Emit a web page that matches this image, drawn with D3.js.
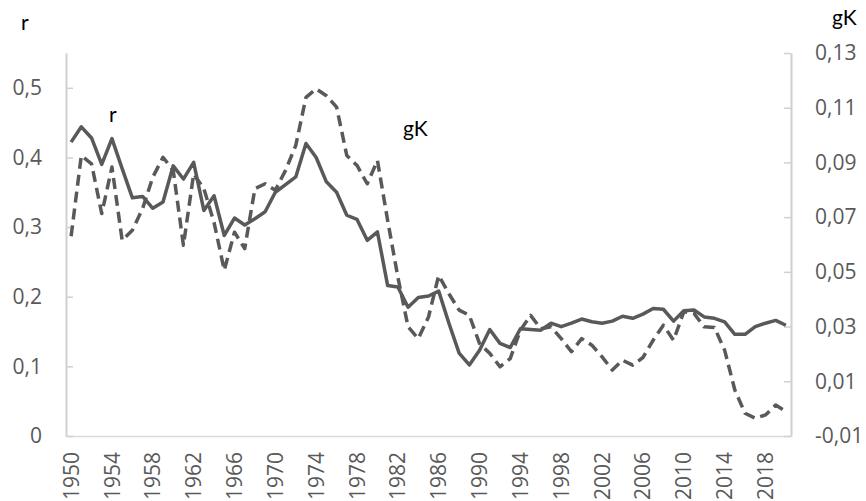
<!DOCTYPE html>
<html>
<head>
<meta charset="utf-8">
<script src="https://cdn.jsdelivr.net/npm/d3@7"></script>
<style>
  body { margin: 0; background: #fff; }
  svg { display: block; }
</style>
</head>
<body>
<div id="chart"></div>
<script>
// years on the category axis
var years = d3.range(1950, 2021);

// r (left axis)
var rValues = [
  0.422, 0.444, 0.428, 0.390, 0.427, 0.384, 0.342, 0.344, 0.327, 0.336,
  0.388, 0.369, 0.393, 0.324, 0.345, 0.288, 0.313, 0.303, 0.312, 0.322,
  0.350, 0.361, 0.372, 0.420, 0.400, 0.365, 0.350, 0.317, 0.311, 0.281,
  0.293, 0.216, 0.214, 0.185, 0.199, 0.201, 0.208, 0.162, 0.119, 0.102,
  0.123, 0.153, 0.133, 0.127, 0.154, 0.153, 0.152, 0.162, 0.157, 0.162,
  0.168, 0.164, 0.162, 0.165, 0.172, 0.169, 0.175, 0.183, 0.182, 0.165,
  0.180, 0.181, 0.171, 0.169, 0.164, 0.146, 0.146, 0.157, 0.162, 0.166,
  0.159
];

// gK (right axis)
var gkValues = [
  0.063, 0.0925, 0.0895, 0.0713, 0.0883, 0.0615, 0.0652, 0.0731, 0.0846, 0.0919,
  0.0871, 0.0597, 0.0858, 0.0804, 0.068, 0.0506, 0.0645, 0.0585, 0.0804, 0.0822,
  0.0798, 0.0871, 0.0962, 0.1138, 0.1169, 0.1144, 0.1102, 0.0925, 0.0889, 0.0822,
  0.0907, 0.0688, 0.0481, 0.0299, 0.0256, 0.0335, 0.0487, 0.042, 0.036, 0.0341,
  0.0238, 0.0202, 0.0153, 0.0183, 0.0287, 0.0341, 0.0292, 0.0299, 0.0256, 0.0208,
  0.0256, 0.0232, 0.0189, 0.0141, 0.0177, 0.0159, 0.0187, 0.025, 0.0305, 0.025,
  0.0354, 0.0348, 0.0299, 0.0297, 0.0214, 0.0068, -0.0017, -0.0035, -0.0023, 0.0013,
  -0.001
];

// tick values
var rTicks = [0, 0.1, 0.2, 0.3, 0.4, 0.5];
var gkTicks = [-0.01, 0.01, 0.03, 0.05, 0.07, 0.09, 0.11, 0.13];
var yearTicks = years.filter(function(y) { return (y - 1950) % 4 == 0; });

var W = 866, H = 501;
var plotL = 66, plotR = 791, plotT = 53, plotB = 436;
var grey = "#595959";

var svg = d3.select("#chart").append("svg")
    .attr("width", W)
    .attr("height", H);

// comma decimals, plain hyphen for minus
var loc = d3.formatLocale({decimal: ",", thousands: ".", grouping: [3], currency: ["", ""], minus: "-"});
var f1 = loc.format(".1f"), f2 = loc.format(".2f");

var x = d3.scaleBand().domain(years).range([plotL, plotR]).paddingInner(0).paddingOuter(0);
var xc = function(y) { return x(y) + x.bandwidth() / 2; };

var yR = d3.scaleLinear().domain([0, 0.55]).range([plotB, plotT]);
var yG = d3.scaleLinear().domain([-0.01, 0.13]).range([plotB, plotT]);

function styleAxis(g) {
    g.select(".domain").attr("stroke", "#d0d0d0").attr("stroke-width", 2);
    g.selectAll(".tick line").attr("stroke", "#d0d0d0").attr("stroke-width", 1.5);
    g.selectAll(".tick text")
        .attr("fill", grey)
        .style("font-family", "'Open Sans', sans-serif")
        .style("font-size", "21px");
}

// bottom axis
var gx = svg.append("g")
    .attr("transform", "translate(0," + plotB + ")")
    .call(d3.axisBottom(x).tickValues(yearTicks).tickSize(0));
styleAxis(gx);
gx.select(".domain").attr("stroke", "#d9d9d9").attr("stroke-width", 1.5);
gx.selectAll(".tick text")
    .attr("transform", "rotate(-90)")
    .attr("x", -16)
    .attr("y", 0)
    .attr("dy", "0.36em")
    .style("text-anchor", "end");

// left axis
var gl = svg.append("g")
    .attr("transform", "translate(" + plotL + ",0)")
    .call(d3.axisLeft(yR).tickValues(rTicks).tickSizeInner(-7).tickSizeOuter(0).tickPadding(24)
        .tickFormat(function(d) { return d == 0 ? "0" : f1(d); }));
styleAxis(gl);

// right axis
var gr = svg.append("g")
    .attr("transform", "translate(" + plotR + ",0)")
    .call(d3.axisRight(yG).tickValues(gkTicks).tickSizeInner(-7).tickSizeOuter(0).tickPadding(24)
        .tickFormat(f2));
styleAxis(gr);

// the two series
var lineR = d3.line().x(function(d, i) { return xc(years[i]); }).y(function(d) { return yR(d); });
var lineG = d3.line().x(function(d, i) { return xc(years[i]); }).y(function(d) { return yG(d); });

svg.append("path")
    .datum(gkValues)
    .attr("d", lineG)
    .attr("fill", "none")
    .attr("stroke", grey)
    .attr("stroke-width", 3.5)
    .attr("stroke-dasharray", "11,6")
    .attr("stroke-linejoin", "round");

svg.append("path")
    .datum(rValues)
    .attr("d", lineR)
    .attr("fill", "none")
    .attr("stroke", grey)
    .attr("stroke-width", 3.5)
    .attr("stroke-linejoin", "round");

// axis titles and series labels
var labelFont = "Lato, 'Open Sans', sans-serif";
function label(txt, lx, ly) {
    svg.append("text")
        .attr("x", lx)
        .attr("y", ly)
        .attr("fill", "#000")
        .style("font-family", labelFont)
        .style("font-size", "21px")
        .text(txt);
}
label("r", 21, 30);
label("gK", 832, 25);
label("r", 109, 122);
label("gK", 403, 136);
</script>
</body>
</html>
